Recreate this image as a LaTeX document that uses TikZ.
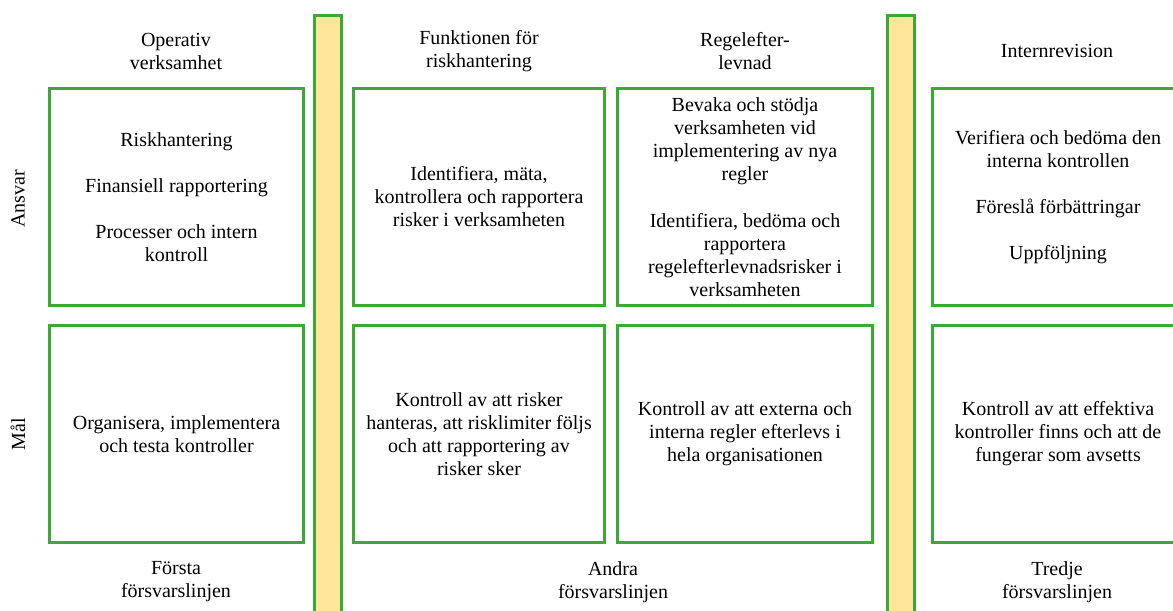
\documentclass[tikz,border=0pt]{standalone}
\usepackage{fontspec}
\setmainfont{Liberation Serif}
\usepackage{tikz}
\definecolor{boxgreen}{RGB}{58,170,53}
\definecolor{baryellow}{RGB}{255,230,153}

\begin{document}
\begin{tikzpicture}[x=0.75pt,y=-0.75pt,
  every node/.style={font=\fontsize{15}{17.25}\selectfont,align=center},
  box/.style={draw=boxgreen,line width=2.25pt,minimum height=163pt},
  bar/.style={draw=boxgreen,fill=baryellow,line width=2.25pt}]
  \clip (0,0) rectangle (1173,610);

  \draw[bar] (314.5,15.5) rectangle (341.5,625);
  \draw[bar] (887.5,15.5) rectangle (914.5,625);

  \node (oh) at (176,51) {Operativ\\verksamhet};
  \node (fh) at (479,51) {Funktionen för\\riskhantering};
  \node (rh) at (745,51) {Regelefter-\\levnad};
  \node (ih) at (1057,51) {Internrevision};

  \node[rotate=90] (ansvar) at (18,199) {Ansvar};
  \node[rotate=90] (mal) at (18,434) {Mål};

  \node[box,minimum width=190.5pt] (oa) at (176.5,197) {Riskhantering\\[17.5pt]Finansiell rapportering\\[17.5pt]Processer och intern\\kontroll};
  \node[box,minimum width=188.25pt] (fa) at (479,197) {Identifiera, mäta,\\kontrollera och rapportera\\risker i verksamheten};
  \node[box,minimum width=191.25pt] (ra) at (745,197) {Bevaka och stödja\\verksamheten vid\\implementering av nya\\regler\\[17.5pt]Identifiera, bedöma och\\rapportera\\regelefterlevnadsrisker i\\verksamheten};
  \node[box,minimum width=189pt] (ia) at (1058,197) {Verifiera och bedöma den\\interna kontrollen\\[17.5pt]Föreslå förbättringar\\[17.5pt]Uppföljning};

  \node[box,minimum width=190.5pt] (om) at (176.5,434) {Organisera, implementera\\och testa kontroller};
  \node[box,minimum width=188.25pt] (fm) at (479,434) {Kontroll av att risker\\hanteras, att risklimiter följs\\och att rapportering av\\risker sker};
  \node[box,minimum width=191.25pt] (rm) at (745,434) {Kontroll av att externa och\\interna regler efterlevs i\\hela organisationen};
  \node[box,minimum width=189pt] (im) at (1058,434) {Kontroll av att effektiva\\kontroller finns och att de\\fungerar som avsetts};

  \node (f1) at (176,582) {Första\\försvarslinjen};
  \node (f2) at (613,582) {Andra\\försvarslinjen};
  \node (f3) at (1057,582) {Tredje\\försvarslinjen};
\end{tikzpicture}
\end{document}
